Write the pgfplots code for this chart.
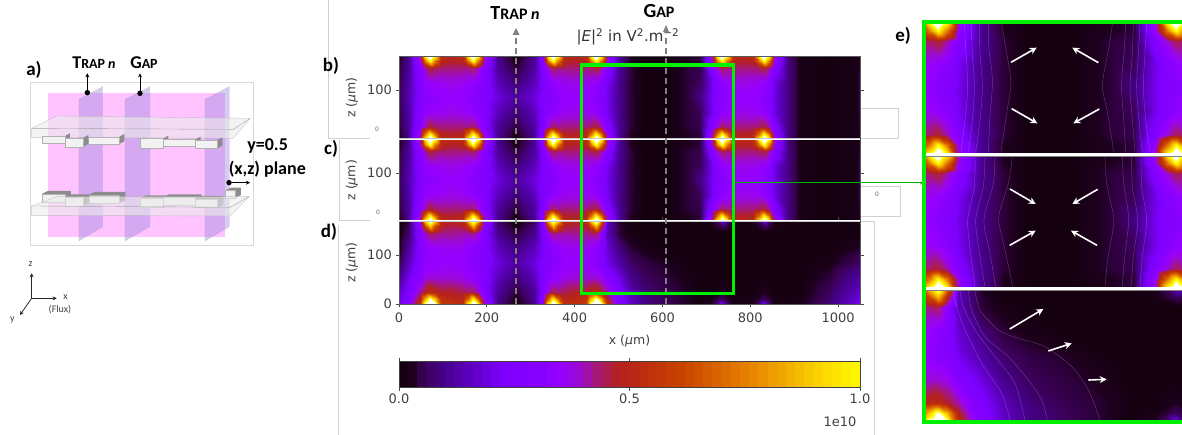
\documentclass[border=0pt]{standalone}
\usepackage{pgfplots}
\pgfplotsset{compat=1.18}
\usepackage{fontspec}
\setmainfont{DejaVu Sans}
\newfontfamily\lab{Carlito}
\usetikzlibrary{arrows.meta}
\pgfplotsset{
 colormap={fire}{rgb255(0pt)=(20,0,15); rgb255(2pt)=(30,0,30); rgb255(3pt)=(45,0,60); rgb255(5pt)=(60,0,90); rgb255(7pt)=(65,0,120); rgb255(10pt)=(75,0,150); rgb255(15pt)=(95,0,195); rgb255(22pt)=(125,0,255); rgb255(30pt)=(135,0,255); rgb255(34pt)=(150,0,255); rgb255(38pt)=(155,10,210); rgb255(42pt)=(165,25,120); rgb255(46pt)=(178,32,40); rgb255(50pt)=(185,40,20); rgb255(60pt)=(200,65,0); rgb255(75pt)=(230,130,0); rgb255(90pt)=(250,210,0); rgb255(100pt)=(255,255,0); rgb255(108pt)=(255,255,255); rgb255(120pt)=(255,255,255)},
 fld/.style={scale only axis,anchor=south west,point meta min=0,point meta max=120,
   xmin=0,xmax=1050,ymin=0,ymax=170,axis on top,
   axis line style={black!65,line width=0.7pt},tick style={black!70,line width=0.7pt},
   tick align=outside,major tick length=3.5pt,
   tick label style={font=\fontsize{13}{13}\selectfont,text=black!75},
   xticklabel style={yshift=-1.5pt},
   /pgf/number format/assume math mode=true,/pgf/number format/1000 sep={},
   every axis y label/.append style={at={(axis description cs:-0.102,0.5)},anchor=center,rotate=0},
   label style={font=\fontsize{12.5}{13}\selectfont,text=black!75}},
 zoomf/.style={scale only axis,anchor=south west,point meta min=0,point meta max=120,
   xmin=432,xmax=743,ymin=0,ymax=170,hide axis,width=258pt},
 cont/.style={line width=0.45pt,color={rgb,255:red,200;green,160;blue,230},opacity=0.35,smooth,no marks},
}
\def\xnodes{{0,20,47,60,71,82,95,120,145,158,169,180,193,225,266,307,327,340,351,362,375,400,425,438,449,460,473,500,527,560,608,659,685,712,725,736,747,760,783,807,820,831,842,855,885,913,980,1040,1050}}
\newcommand\AddRow[3]{\edef\tmprow{#3}\foreach \v [count=\i from 0] in \tmprow {\pgfmathsetmacro\xx{\xnodes[\i]}\xdef#1{#1 (\xx,#2) [\v]}}}
\def\plotfield#1{\expandafter\plotfieldi\expandafter{#1}}
\def\plotfieldi#1{\addplot[surf,shader=interp,mesh/cols=49,point meta=explicit] coordinates {#1};}
% field of panels b and c: rows read at z = 0,11,24,55,85 and mirrored
\def\rA{1,8,40,100,120,100,52,50,52,100,120,100,38,8,0,8,32,100,120,100,52,50,52,100,120,100,38,10,2,0,0,2,3,40,100,120,100,52,50,52,100,120,100,38,7,1,0,1,2}
\def\rB{2,9,36,72,100,72,48,46,48,72,100,72,35,9,1,10,30,72,100,72,47,46,48,72,100,72,35,10,2,0,0,2,3,36,72,100,72,47,46,48,72,100,72,34,8,1,0,1,2}
\def\rC{3,10,30,40,46,43,42,42,42,41,44,38,28,10,3,11,25,38,44,41,42,42,42,43,46,40,28,10,3,0,0,3,4,28,38,44,41,42,42,42,43,46,40,27,8,1,0,1,3}
\def\rD{4,11,28,33,34,35,35,36,35,34,33,31,27,14,7,14,24,30,32,34,35,36,35,35,33,30,21,9,3,0,0,3,5,20,28,32,34,35,36,35,35,33,30,19,8,1,0,1,4}
\def\rE{5,12,26,30,31,32,33,34,33,31,30,28,26,18,11,18,24,28,30,31,33,34,33,32,30,27,20,9,3,0,0,3,8,21,26,29,31,33,34,33,32,30,27,19,8,1,0,1,4}
\def\fieldBC{}
\AddRow\fieldBC{0}{\rA}\AddRow\fieldBC{11}{\rB}\AddRow\fieldBC{24}{\rC}\AddRow\fieldBC{55}{\rD}\AddRow\fieldBC{85}{\rE}\AddRow\fieldBC{115}{\rD}\AddRow\fieldBC{146}{\rC}\AddRow\fieldBC{159}{\rB}\AddRow\fieldBC{170}{\rA}
% field of panel d
\def\fieldD{}
\AddRow\fieldD{0}{20,28,55,110,120,112,56,54,52,100,120,100,38,8,0,8,32,100,120,100,52,54,56,112,120,110,55,28,16,8,4.5,2,0,3,7,22,7,1,1,1,7,22,7,1,0,1,7,19,22}
\AddRow\fieldD{11}{18,26,48,85,110,88,54,50,50,70,100,68,34,9,1,9,30,68,100,70,50,50,54,88,110,85,48,26,15,8,4.5,2,0,1,3,5,3,1,1,1,3,5,3,1,0,1,6,16,19}
\AddRow\fieldD{24}{16,24,40,46,52,49,46,46,44,42,44,38,28,10,3,10,25,38,44,42,44,46,46,49,52,46,40,25,14,7,4,2,0,0,1,2,1,0,0,0,1,2,1,0,0,0,5,14,16}
\AddRow\fieldD{55}{10,19,31,36,37,37,37,37,36,34,33,31,27,14,7,14,24,31,33,34,36,37,37,37,37,36,28,19,9,5,3,1,0,0,0,0,0,0,0,0,0,0,0,0,0,0,3,10,12}
\AddRow\fieldD{85}{4,14,27,32,33,33,34,34,33,31,30,28,26,18,11,18,24,28,30,31,33,34,34,32,30,27,20,12,6,3.5,2,0,0,0,0,0,0,0,0,0,0,0,0,0,0,0,1,5,7}
\AddRow\fieldD{115}{1,10,26,32,33,34,35,35,35,32,31,29,26,14,8,14,23,29,31,32,35,35,35,34,31,26,17,8,3,1,0,0,0,0,0,0,0,0,0,0,0,0,0,0,0,0,0,2,3}
\AddRow\fieldD{146}{0,6,30,38,44,42,41,41,40,40,42,36,26,9,3,9,24,36,42,40,40,41,41,42,44,30,14,3,1,0,0,0,0,0,0,0,0,0,0,0,0,0,0,0,0,0,0,0,0}
\AddRow\fieldD{159}{0,4,32,62,88,62,46,44,46,58,85,56,30,7,1,7,26,56,85,58,46,44,46,62,85,50,14,3,0,0,0,0,0,1,3,5,3,1,0,1,3,5,3,1,0,0,0,0,0}
\AddRow\fieldD{170}{0,3,36,90,116,90,50,48,50,85,112,82,34,5,0,5,30,82,112,85,50,48,50,90,116,70,13,2,0,0,0,0,0,2,5,18,5,1,0,1,5,18,5,1,0,0,0,0,0}
\definecolor{grn}{RGB}{0,240,0}
\definecolor{pinkp}{RGB}{255,195,255}
\definecolor{planep}{RGB}{150,130,220}
\newcommand\TS[4]{{\lab\bfseries\fontsize{#1}{#1}\selectfont #3\fontsize{#2}{#2}\selectfont #4}}
\begin{document}
\begin{tikzpicture}
\path[use as bounding box] (0pt,0pt) rectangle (1182pt,-435pt);
% faint leftover frames
\begin{scope}[x=1pt,y=-1pt,black!18,line width=0.6pt]
\draw (328,0)--(328,138)--(370,138);
\draw (339,140)--(339,220)--(370,220);
\draw (338,225)--(338,435);
\draw (860,108)--(898,108)--(898,138)--(860,138);
\draw (860,186)--(900,186)--(900,216)--(860,216);
\draw (860,221)--(874,221)--(874,435);
\end{scope}
% panel a
\begin{scope}[shift={(0pt,-40pt)},x=0.3333pt,y=-0.3333pt]
\draw[black!15,line width=0.6pt] (90,128) rectangle (760,615);
\fill[pinkp] (145,160) rectangle (675,590);
\foreach \a/\b in {237/308,375/450,615/688}{
 \fill[planep,opacity=0.4,draw=black!40,line width=0.3pt] (\a,178)--(\b,140)--(\b,560)--(\a,603)--cycle;}
\fill[black!8,opacity=0.6,draw=black!35,line width=0.4pt] (95,265)--(170,228)--(750,235)--(700,295)--(95,292)--cycle;
\draw[black!35,line width=0.4pt] (95,265)--(700,268)--(750,235);
\foreach \p/\q/\r/\s in {125/195/288/310,265/358/290/312,420/490/295/323,490/587/298/318,587/652/300/325,195/250/293/320}{
 \fill[black!45] (\q,\r)--(\q+15,\r-8)--(\q+15,\s-8)--(\q,\s)--cycle;
 \fill[black!5,draw=black!30,line width=0.3pt] (\p,\r) rectangle (\q,\s);}
\foreach \p/\q/\r/\s in {125/195/462/488,265/358/465/490,420/490/475/501,490/587/472/497,587/652/477/503,195/250/472/498,675/705/452/474}{
 \fill[black!45] (\p,\r)--(\p+18,\r-9)--(\q+18,\r-9)--(\q+18,\s-9)--(\q,\s)--(\q,\r)--cycle;
 \fill[black!5,draw=black!30,line width=0.3pt] (\p,\r) rectangle (\q,\s);}
\fill[black!8,opacity=0.6,draw=black!35,line width=0.4pt] (95,498)--(170,470)--(748,470)--(690,528)--(95,526)--cycle;
\draw[black!35,line width=0.4pt] (95,498)--(690,502)--(748,470);
\foreach \xa/\ya in {262/158,420/160}{
 \fill (\xa,\ya) circle (2.7pt);
 \draw[-{Stealth[length=4pt,width=4pt]},line width=0.9pt] (\xa,\ya)--(\xa,100);}
\fill (687,428) circle (2.7pt);
\draw[-{Stealth[length=4pt,width=4pt]},line width=0.9pt] (687,428)--(750,428);
\draw[-{Stealth[length=4pt,width=4pt]},line width=0.8pt,black!85] (95,775)--(95,700);
\draw[-{Stealth[length=4pt,width=4pt]},line width=0.8pt,black!85] (95,775)--(170,775);
\draw[-{Stealth[length=4pt,width=4pt]},line width=0.8pt,black!85] (95,775)--(60,825);
\node[font=\lab\fontsize{10}{10}\selectfont,text=black!75] at (92,672) {z};
\node[font=\lab\fontsize{10}{10}\selectfont,text=black!75] at (197,772) {x};
\node[font=\lab\fontsize{10}{10}\selectfont,text=black!75] at (180,810) {(Flux)};
\node[font=\lab\fontsize{10}{10}\selectfont,text=black!75] at (37,840) {y};
\node at (282,68) {\TS{18}{14}{T}{RAP \textit{n}}};
\node at (432,68) {\TS{18}{14}{G}{AP}};
\node[font=\lab\bfseries\fontsize{19}{19}\selectfont] at (102,90) {a)};
\node[font=\lab\bfseries\fontsize{18}{18}\selectfont] at (803,318) {y=0.5};
\node[font=\lab\bfseries\fontsize{18}{18}\selectfont] at (802,387) {(x,z) plane};
\end{scope}
% panels b, c, d
\begin{axis}[fld,at={(399pt,-139pt)},width=461pt,height=83pt,xtick=\empty,ytick={100},ylabel={z (\textit{µ}m)}]
\plotfield\fieldBC
\end{axis}
\begin{axis}[fld,at={(399pt,-221pt)},width=461pt,height=81.5pt,xtick=\empty,ytick={100},ylabel={z (\textit{µ}m)}]
\plotfield\fieldBC
\end{axis}
\begin{axis}[fld,at={(399pt,-304pt)},width=461pt,height=83pt,xtick={0,200,400,600,800,1000},ytick={0,100},ylabel={z (\textit{µ}m)},
  xlabel={x (\textit{µ}m)},every axis x label/.append style={at={(axis description cs:0.5,-0.45)},anchor=center}]
\plotfield\fieldD
\end{axis}
% colour bar
\begin{axis}[scale only axis,anchor=south west,at={(399pt,-387pt)},width=461pt,height=26pt,xmin=0,xmax=100,ymin=0,ymax=1,
  point meta min=0,point meta max=120,ytick=\empty,xtick={0,50,100},xticklabels={0.0,0.5,1.0},axis on top,
  axis line style={black!75,line width=0.8pt},tick style={black!70,line width=0.7pt},tick align=outside,major tick length=3.5pt,
  tick label style={font=\fontsize{13}{13}\selectfont,text=black!75}]
\addplot[surf,shader=flat corner,mesh/rows=2,point meta=x] coordinates {
(0,0)(2,0)(4,0)(6,0)(8,0)(10,0)(12,0)(14,0)(16,0)(18,0)(20,0)(22,0)(24,0)(26,0)(28,0)(30,0)(32,0)(34,0)(36,0)(38,0)(40,0)(42,0)(44,0)(46,0)(48,0)(50,0)(52,0)(54,0)(56,0)(58,0)(60,0)(62,0)(64,0)(66,0)(68,0)(70,0)(72,0)(74,0)(76,0)(78,0)(80,0)(82,0)(84,0)(86,0)(88,0)(90,0)(92,0)(94,0)(96,0)(98,0)(100,0)
(0,1)(2,1)(4,1)(6,1)(8,1)(10,1)(12,1)(14,1)(16,1)(18,1)(20,1)(22,1)(24,1)(26,1)(28,1)(30,1)(32,1)(34,1)(36,1)(38,1)(40,1)(42,1)(44,1)(46,1)(48,1)(50,1)(52,1)(54,1)(56,1)(58,1)(60,1)(62,1)(64,1)(66,1)(68,1)(70,1)(72,1)(74,1)(76,1)(78,1)(80,1)(82,1)(84,1)(86,1)(88,1)(90,1)(92,1)(94,1)(96,1)(98,1)(100,1)};
\end{axis}
% panel e
\begin{axis}[zoomf,at={(924pt,-154pt)},height=132pt]
\plotfield\fieldBC
\end{axis}
\begin{axis}[zoomf,at={(924pt,-288pt)},height=134pt]
\plotfield\fieldBC
\end{axis}
\begin{axis}[zoomf,at={(924pt,-422pt)},height=134pt]
\plotfield\fieldD
\end{axis}
% contour lines of panel e, read in reference crop coordinates
\begin{axis}[scale only axis,anchor=south west,at={(924pt,-422pt)},width=258pt,height=400pt,xmin=117,xmax=891,ymin=36,ymax=1236,y dir=reverse,hide axis]
\addplot[cont] coordinates {(350,42)(360,100)(375,190)(377,230)(365,310)(348,425)};
\addplot[cont] coordinates {(682,42)(672,110)(655,200)(653,240)(670,320)(686,425)};
\addplot[cont] coordinates {(310,42)(312,120)(320,180)(322,230)(315,320)(310,425)};
\addplot[cont] coordinates {(722,42)(718,120)(712,180)(710,240)(716,330)(722,425)};
\addplot[cont] coordinates {(283,42)(285,130)(292,230)(285,330)(272,425)};
\addplot[cont] coordinates {(258,42)(262,130)(268,230)(262,330)(250,425)};
\addplot[cont] coordinates {(238,42)(243,130)(248,230)(240,330)(228,425)};
\addplot[cont] coordinates {(745,42)(742,130)(735,230)(742,330)(750,425)};
\addplot[cont] coordinates {(765,42)(760,130)(755,230)(762,330)(772,425)};
\addplot[cont] coordinates {(785,42)(780,130)(775,230)(782,330)(795,425)};
\addplot[cont] coordinates {(382,440)(370,520)(345,600)(342,640)(360,720)(383,830)};
\addplot[cont] coordinates {(660,440)(665,520)(684,610)(685,650)(668,750)(660,830)};
\addplot[cont] coordinates {(330,440)(325,520)(300,610)(298,650)(315,730)(332,830)};
\addplot[cont] coordinates {(712,440)(716,520)(730,610)(730,650)(718,750)(712,830)};
\addplot[cont] coordinates {(300,440)(295,530)(272,630)(285,740)(300,830)};
\addplot[cont] coordinates {(270,440)(268,530)(248,630)(258,740)(270,830)};
\addplot[cont] coordinates {(740,440)(742,530)(758,630)(745,740)(738,830)};
\addplot[cont] coordinates {(768,440)(770,530)(785,630)(772,740)(765,830)};
\addplot[cont] coordinates {(270,842)(285,900)(340,960)(400,985)(480,1010)(560,1070)(610,1140)(645,1230)};
\addplot[cont] coordinates {(250,842)(260,900)(300,980)(370,1040)(430,1110)(470,1170)(487,1230)};
\addplot[cont] coordinates {(225,842)(235,890)(270,960)(330,1040)(390,1120)(420,1230)};
\addplot[cont] coordinates {(205,842)(215,890)(240,960)(290,1060)(350,1150)(375,1230)};
\end{axis}
% annotations
\begin{scope}[x=1pt,y=-1pt]
\draw[black!22,line width=1.6pt] (399,139.3)--(860,139.3);
\draw[white,line width=0.9pt] (399,139)--(860,139);
\draw[black!22,line width=1.6pt] (399,221)--(860,221);
\draw[white,line width=0.6pt] (399,220.6)--(860,220.6);
\draw[black!50,line width=3.6pt] (924,154.8)--(1182,154.8);
\draw[white,line width=2.8pt] (924,154.4)--(1182,154.4);
\draw[black!50,line width=3.6pt] (924,288.8)--(1182,288.8);
\draw[white,line width=2.8pt] (924,288.4)--(1182,288.4);
\draw[black!50,line width=1.2pt,dash pattern=on 6pt off 4pt] (516,304)--(516,34);
\fill[black!50] (516,28)--(512.5,35)--(519.5,35)--cycle;
\draw[black!50,line width=1.2pt,dash pattern=on 6pt off 4pt] (666,304)--(666,34);
\fill[black!50] (666,25)--(663,32)--(669,32)--cycle;
\draw[grn,line width=3.2pt] (581.5,65) rectangle (733.5,293.5);
\draw[grn!75!black,line width=1pt,-{Stealth[length=3pt,width=3pt]}] (735,183)--(923,183);
\draw[grn,line width=4pt] (924,22.5) rectangle (1195,421.5);
\node at (515,13) {\TS{20}{16}{T}{RAP \textit{n}}};
\node at (659,11) {\TS{20}{16}{G}{AP}};
\node[font=\fontsize{15}{15}\selectfont,text=black!80] at (628,37) {|\textit{E}|\textsuperscript{2} in V\textsuperscript{2}.m\textsuperscript{−2}};
\node[font=\lab\bfseries\fontsize{19}{19}\selectfont] at (331,66) {b)};
\node[font=\lab\bfseries\fontsize{19}{19}\selectfont] at (331,149) {c)};
\node[font=\lab\bfseries\fontsize{19}{19}\selectfont] at (329,232) {d)};
\node[font=\lab\bfseries\fontsize{19}{19}\selectfont] at (903,36) {e)};
\node[font=\fontsize{6}{6}\selectfont,text=black!60] at (377,129) {0};
\node[font=\fontsize{6}{6}\selectfont,text=black!60] at (378,212) {0};
\node[font=\fontsize{6}{6}\selectfont,text=black!60] at (877,194) {0};
\node[font=\fontsize{13}{13}\selectfont,text=black!75,anchor=east] at (860,422) {1e10};
\foreach \xa/\ya/\xb/\yb in {378/157/455/113,640/158/562/113,380/296/457/340,643/297/565/340,375/537/452/582,638/538/562/582,374/706/452/662,636/706/558/662,374/957/475/897,490/1023/560/1000,610/1110/665/1108}{
 \draw[white,line width=1.6pt,-{Stealth[length=7pt,width=7pt]}] (885+\xa/3,10+\ya/3)--(885+\xb/3,10+\yb/3);}
\end{scope}
\end{tikzpicture}
\end{document}
